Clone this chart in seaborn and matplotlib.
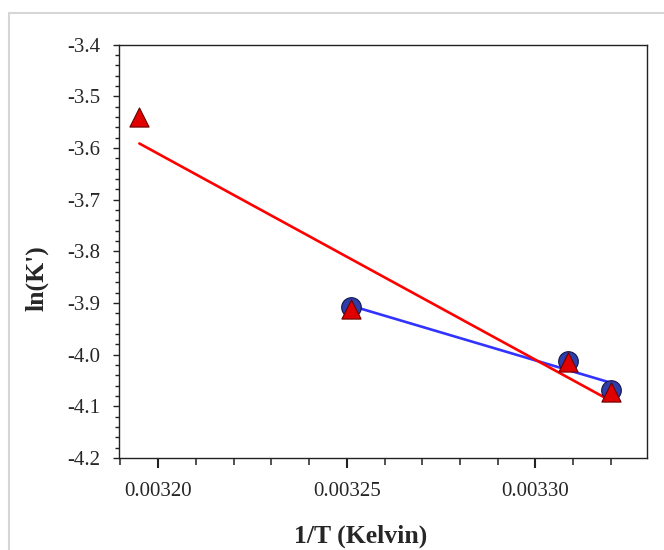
import numpy as np
import pandas as pd
import matplotlib
matplotlib.use("Agg")
import matplotlib.pyplot as plt
import seaborn as sns
from matplotlib.lines import Line2D
from matplotlib.ticker import MultipleLocator, FormatStrFormatter

# data
x_circle = [0.003251, 0.0033085, 0.003320]
y_circle = [-3.908, -4.012, -4.069]
x_tri = [0.003195, 0.003251, 0.0033085, 0.003320]
y_tri = [-3.540, -3.912, -4.015, -4.072]

x_ticks = [0.00320, 0.00325, 0.00330]
y_ticks = [-3.4, -3.5, -3.6, -3.7, -3.8, -3.9, -4.0, -4.1, -4.2]
x_label = "1/T (Kelvin)"
y_label = "ln(K')"

df_c = pd.DataFrame({"x": x_circle, "y": y_circle})
df_t = pd.DataFrame({"x": x_tri, "y": y_tri})

sns.set_style("white")
plt.rcParams["font.family"] = ["Liberation Serif", "DejaVu Serif"]

fig = plt.figure(figsize=(6.64, 5.5), dpi=100)
ax = fig.add_axes([0.1792, 0.1673, 0.7948, 0.7514])

# outer light frame
fig.add_artist(Line2D([8.5 / 664, 8.5 / 664], [0, 1 - 13 / 550], transform=fig.transFigure,
                      color="#d6d6d6", lw=1.5))
fig.add_artist(Line2D([8.5 / 664, 1], [1 - 13 / 550, 1 - 13 / 550], transform=fig.transFigure,
                      color="#d6d6d6", lw=1.5))

# regression lines
sns.regplot(data=df_c, x="x", y="y", ax=ax, scatter=False, ci=None, truncate=True,
            line_kws={"color": "#3333ff", "lw": 1.9, "zorder": 2})
sns.regplot(data=df_t, x="x", y="y", ax=ax, scatter=False, ci=None, truncate=True,
            line_kws={"color": "#ff0000", "lw": 1.9, "zorder": 2})

# markers
sns.scatterplot(data=df_c, x="x", y="y", ax=ax, marker="o", s=200, color="#2e3ea8",
                edgecolor="#15154a", linewidth=0.8, zorder=3)
sns.scatterplot(data=df_t, x="x", y="y", ax=ax, marker="^", s=190, color="#e00000",
                edgecolor="#6a0000", linewidth=0.8, zorder=4)

ax.set_xlim(0.0031896, 0.0033295)
ax.set_ylim(-4.2, -3.4)
ax.set_xticks(x_ticks)
ax.set_yticks(y_ticks)
ax.xaxis.set_minor_locator(MultipleLocator(0.00001))
ax.yaxis.set_minor_locator(MultipleLocator(0.02))
ax.xaxis.set_major_formatter(FormatStrFormatter("%.5f"))
ax.yaxis.set_major_formatter(FormatStrFormatter("%.1f"))

for s in ax.spines.values():
    s.set_color("#222222")
    s.set_linewidth(1.0)

ax.tick_params(axis="x", which="major", direction="out", length=7.2, width=1.5,
               labelsize=15, pad=10, color="#222222", bottom=True, top=False)
ax.tick_params(axis="x", which="minor", direction="out", length=5, width=1.1,
               color="#222222", bottom=True, top=False)
ax.tick_params(axis="y", which="major", direction="out", length=4.5, width=1.0,
               labelsize=15, pad=9, color="#222222", left=True, right=False)
ax.tick_params(axis="y", which="minor", direction="out", length=3, width=1.0,
               color="#222222", left=True, right=False)

ax.set_xlabel(x_label, fontsize=18.5, fontweight="bold")
ax.set_ylabel(y_label, fontsize=18.5, fontweight="bold")
ax.xaxis.set_label_coords(0.457, -0.189)
ax.yaxis.set_label_coords(-0.155, 0.435)
ax.xaxis.label.set_va("center")
ax.yaxis.label.set_va("center")

fig.savefig("out.png", dpi=100)
